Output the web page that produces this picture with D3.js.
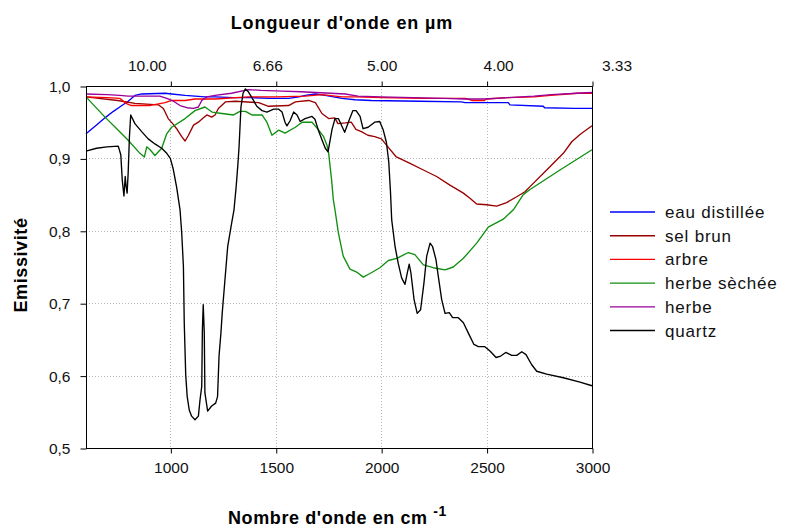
<!DOCTYPE html>
<html><head><meta charset="utf-8">
<script src="https://cdn.jsdelivr.net/npm/d3@7/dist/d3.min.js"></script>
<style>body{margin:0;background:#fff}svg{display:block}</style>
</head><body>
<svg id="chart" width="789" height="527"></svg>
<script>
// ---------- data (wavenumber cm-1, emissivity) ----------
const eauDistillee = [[600,0.934],[650,0.946],[690,0.956],[730,0.965],[760,0.971],[800,0.979],[832,0.987],[864,0.989],[975,0.990],[1006,0.989],[1070,0.987],[1117,0.986],[1164,0.985],[1212,0.985],[1300,0.984],[1378,0.984],[1470,0.983],[1561,0.983],[1610,0.985],[1640,0.987],[1688,0.989],[1735,0.987],[1814,0.983],[1876,0.981],[1953,0.980],[2184,0.979],[2380,0.978],[2398,0.977],[2603,0.977],[2611,0.974],[2769,0.972],[2775,0.970],[2919,0.969],[3000,0.969]];
const selBrun = [[600,0.985],[750,0.980],[832,0.976],[943,0.974],[967,0.969],[990,0.955],[1014,0.947],[1030,0.941],[1054,0.930],[1070,0.924],[1086,0.932],[1110,0.946],[1133,0.950],[1157,0.956],[1173,0.960],[1196,0.957],[1212,0.960],[1228,0.969],[1261,0.978],[1308,0.979],[1419,0.977],[1466,0.972],[1561,0.973],[1593,0.978],[1656,0.980],[1688,0.977],[1719,0.962],[1751,0.955],[1780,0.956],[1795,0.948],[1830,0.949],[1858,0.950],[1880,0.940],[1906,0.937],[1937,0.932],[1969,0.930],[2001,0.927],[2032,0.916],[2072,0.902],[2137,0.893],[2200,0.884],[2263,0.875],[2326,0.863],[2390,0.852],[2421,0.845],[2453,0.837],[2500,0.836],[2548,0.834],[2595,0.839],[2643,0.847],[2682,0.854],[2706,0.861],[2785,0.884],[2864,0.907],[2904,0.923],[2943,0.933],[3000,0.945]];
const arbre = [[600,0.985],[700,0.984],[760,0.983],[790,0.976],[815,0.973],[900,0.973],[975,0.977],[1006,0.980],[1070,0.980],[1117,0.982],[1212,0.982],[1370,0.985],[1500,0.985],[1640,0.986],[1720,0.988],[1814,0.985],[1880,0.985],[2000,0.984],[2200,0.983],[2400,0.983],[2430,0.980],[2490,0.980],[2500,0.982],[2600,0.984],[2725,0.985],[2805,0.987],[2930,0.990],[3000,0.990]];
const herbeSechee = [[600,0.985],[690,0.957],[753,0.939],[800,0.925],[856,0.907],[877,0.902],[888,0.916],[904,0.912],[927,0.904],[959,0.914],[983,0.934],[1006,0.943],[1070,0.955],[1117,0.966],[1164,0.971],[1198,0.964],[1245,0.962],[1300,0.960],[1330,0.965],[1356,0.965],[1387,0.960],[1435,0.960],[1458,0.950],[1482,0.932],[1514,0.939],[1544,0.935],[1593,0.943],[1625,0.950],[1672,0.950],[1704,0.939],[1727,0.930],[1743,0.918],[1751,0.907],[1765,0.870],[1773,0.843],[1781,0.829],[1797,0.797],[1820,0.765],[1852,0.747],[1884,0.743],[1915,0.736],[1947,0.741],[1994,0.749],[2034,0.759],[2074,0.762],[2129,0.770],[2160,0.767],[2200,0.753],[2247,0.749],[2303,0.746],[2342,0.750],[2390,0.762],[2453,0.783],[2508,0.805],[2579,0.816],[2627,0.829],[2674,0.850],[2706,0.857],[2848,0.884],[3000,0.912]];
const herbe = [[600,0.989],[700,0.988],[760,0.987],[800,0.986],[870,0.986],[950,0.986],[983,0.983],[1015,0.979],[1046,0.973],[1078,0.970],[1110,0.969],[1133,0.971],[1149,0.980],[1173,0.985],[1212,0.987],[1290,0.990],[1370,0.995],[1430,0.994],[1530,0.993],[1620,0.992],[1690,0.991],[1830,0.989],[1890,0.986],[2000,0.985],[2300,0.983],[2395,0.982],[2490,0.982],[2600,0.984],[2725,0.986],[2805,0.988],[2930,0.990],[3000,0.991]];
const quartz = [[600,0.910],[650,0.914],[700,0.916],[753,0.917],[765,0.905],[772,0.870],[780,0.848],[786,0.875],[790,0.862],[795,0.852],[800,0.880],[806,0.930],[812,0.960],[832,0.948],[864,0.937],[895,0.927],[927,0.920],[959,0.914],[983,0.907],[1000,0.900],[1014,0.885],[1030,0.860],[1046,0.829],[1054,0.797],[1062,0.751],[1066,0.673],[1073,0.601],[1080,0.571],[1090,0.552],[1101,0.544],[1117,0.539],[1133,0.544],[1141,0.567],[1149,0.585],[1152,0.663],[1156,0.698],[1161,0.659],[1164,0.576],[1177,0.551],[1196,0.558],[1215,0.562],[1224,0.571],[1231,0.627],[1240,0.659],[1246,0.686],[1259,0.732],[1272,0.778],[1283,0.797],[1291,0.811],[1302,0.829],[1312,0.860],[1320,0.890],[1326,0.916],[1335,0.971],[1345,0.990],[1356,0.996],[1370,0.992],[1387,0.984],[1410,0.972],[1435,0.966],[1458,0.964],[1490,0.968],[1514,0.968],[1530,0.964],[1544,0.950],[1553,0.945],[1568,0.952],[1585,0.964],[1601,0.960],[1616,0.951],[1639,0.955],[1672,0.958],[1686,0.954],[1702,0.939],[1720,0.925],[1735,0.914],[1748,0.909],[1767,0.940],[1781,0.955],[1797,0.955],[1827,0.936],[1847,0.952],[1866,0.966],[1881,0.966],[1900,0.958],[1914,0.941],[1938,0.943],[1969,0.950],[1993,0.951],[2009,0.940],[2025,0.922],[2036,0.895],[2044,0.855],[2050,0.815],[2066,0.778],[2081,0.755],[2097,0.735],[2113,0.726],[2124,0.742],[2133,0.754],[2141,0.742],[2156,0.705],[2171,0.686],[2187,0.691],[2203,0.728],[2216,0.765],[2232,0.783],[2244,0.778],[2260,0.760],[2271,0.737],[2287,0.705],[2303,0.686],[2323,0.687],[2339,0.680],[2366,0.680],[2390,0.673],[2413,0.659],[2440,0.643],[2461,0.640],[2492,0.640],[2516,0.634],[2545,0.625],[2567,0.627],[2591,0.632],[2619,0.628],[2643,0.628],[2667,0.633],[2687,0.629],[2714,0.615],[2738,0.606],[2785,0.602],[2864,0.597],[2943,0.591],[3000,0.586]];

const seriesNames = ["eau distillée","sel brun","arbre","herbe sèchée","herbe","quartz"];
const seriesData = [eauDistillee, selBrun, arbre, herbeSechee, herbe, quartz];
const seriesColors = ["#0000ff","#990000","#ff0000","#109010","#990099","#000000"];

const xTicks = [1000,1500,2000,2500,3000];
const topTickLabels = ["10.00","6.66","5.00","4.00","3.33"];
const yTicks = [0.5,0.6,0.7,0.8,0.9,1.0];
const yTickLabels = ["0,5","0,6","0,7","0,8","0,9","1,0"];

// ---------- layout ----------
const L = 86, R = 592, T = 86, B = 448;
const svg = d3.select("#chart");
const x = d3.scaleLinear().domain([600,3000]).range([L,R]);
const y = d3.scaleLinear().domain([0.5,1.0]).range([B,T]);
const FONT = "'Liberation Sans', Arial, sans-serif";

// grid
const grid = svg.append("g").attr("stroke","#b8b8b8").attr("stroke-width",1).attr("stroke-dasharray","1,2");
grid.selectAll("line.v").data(xTicks.filter(d=>d<3000)).join("line")
  .attr("x1",d=>Math.round(x(d))+0.5).attr("x2",d=>Math.round(x(d))+0.5).attr("y1",T).attr("y2",B);
grid.selectAll("line.h").data(yTicks.filter(d=>d>0.5&&d<1.0)).join("line")
  .attr("y1",d=>Math.round(y(d))+0.5).attr("y2",d=>Math.round(y(d))+0.5).attr("x1",L).attr("x2",R);

// series
const line = d3.line().x(d=>x(d[0])).y(d=>y(d[1]));
const plot = svg.append("g");
seriesData.forEach((s,i)=>{
  plot.append("path").datum(s).attr("d",line).attr("fill","none")
    .attr("stroke",seriesColors[i]).attr("stroke-width",1.35).attr("stroke-linejoin","round");
});

// frame
svg.append("rect").attr("x",L+0.5).attr("y",T+0.5).attr("width",R-L).attr("height",B-T)
  .attr("fill","none").attr("stroke","#000").attr("stroke-width",1);

// axes
function styleAxis(g){
  g.select(".domain").remove();
  g.selectAll(".tick line").attr("stroke","#000");
  g.selectAll(".tick text").attr("font-family",FONT).attr("font-size",15.5).attr("fill","#111");
}
const xb = svg.append("g").attr("transform",`translate(0.5,${B+0.5})`)
  .call(d3.axisBottom(x).tickValues(xTicks).tickSize(5).tickPadding(8).tickFormat(d3.format("d")));
styleAxis(xb);
const topShift = [-24,-9,0,11,24];
const xt = svg.append("g").attr("transform",`translate(0.5,${T+0.5})`)
  .call(d3.axisTop(x).tickValues(xTicks).tickSize(5).tickPadding(11).tickFormat((d,i)=>topTickLabels[i]));
styleAxis(xt);
xt.selectAll(".tick text").attr("dx",(d,i)=>topShift[i]);
const yl = svg.append("g").attr("transform",`translate(${L+0.5},0.5)`)
  .call(d3.axisLeft(y).tickValues(yTicks).tickSize(6).tickPadding(10).tickFormat((d,i)=>yTickLabels[i]));
styleAxis(yl);

// titles
svg.append("text").attr("x",342).attr("y",29).attr("text-anchor","middle")
  .attr("font-family",FONT).attr("font-weight","bold").attr("font-size",18).attr("letter-spacing",0.9)
  .text("Longueur d'onde en µm");
const bt = svg.append("text").attr("x",228).attr("y",524)
  .attr("font-family",FONT).attr("font-weight","bold").attr("font-size",18).attr("letter-spacing",0.6);
bt.append("tspan").text("Nombre d'onde en cm ");
bt.append("tspan").attr("dy",-8).attr("font-size",14).text("-1");
svg.append("text").attr("transform","translate(27,265) rotate(-90)").attr("text-anchor","middle")
  .attr("font-family",FONT).attr("font-weight","bold").attr("font-size",18).attr("letter-spacing",0.6)
  .text("Emissivité");

// legend
const lg = svg.append("g");
seriesNames.forEach((n,i)=>{
  const yy = 212 + i*23.7;
  lg.append("line").attr("x1",610).attr("x2",655).attr("y1",yy).attr("y2",yy)
    .attr("stroke",seriesColors[i]).attr("stroke-width",1.35);
  lg.append("text").attr("x",665).attr("y",yy+6).attr("font-family",FONT).attr("font-size",17)
    .attr("letter-spacing",0.8).attr("fill","#111").text(n);
});
</script>
</body></html>
